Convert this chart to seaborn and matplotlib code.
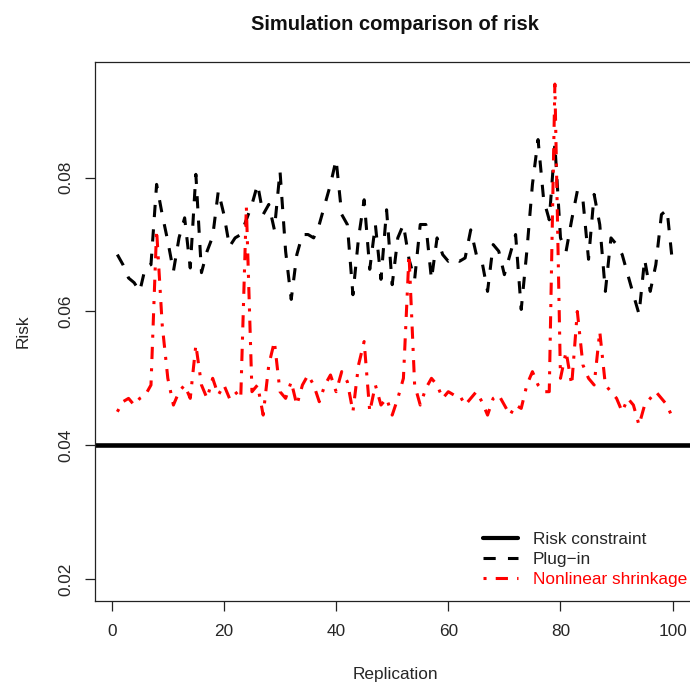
import numpy as np
import pandas as pd
import matplotlib
matplotlib.use("Agg")
import matplotlib.pyplot as plt
import seaborn as sns
from matplotlib.lines import Line2D

replication = list(range(1, 101))
plug_in = [0.0685, 0.067, 0.065, 0.0643, 0.063, 0.0666, 0.067, 0.079, 0.0745, 0.0705,
           0.066, 0.071, 0.074, 0.0665, 0.0805, 0.0658, 0.069, 0.0712, 0.078, 0.0745,
           0.0697, 0.071, 0.0715, 0.0737, 0.076, 0.079, 0.0745, 0.076, 0.0722, 0.081,
           0.069, 0.0618, 0.0685, 0.0715, 0.0715, 0.071, 0.073, 0.076, 0.079, 0.0827,
           0.0745, 0.073, 0.0625, 0.071, 0.0767, 0.0663, 0.073, 0.0648, 0.0752, 0.064,
           0.071, 0.073, 0.0678, 0.0648, 0.073, 0.073, 0.0648, 0.071, 0.0685, 0.0675,
           0.068, 0.0675, 0.068, 0.0722, 0.0685, 0.0675, 0.063, 0.070, 0.069, 0.0655,
           0.0685, 0.0715, 0.0603, 0.069, 0.079, 0.0857, 0.0767, 0.0737, 0.085, 0.071,
           0.069, 0.0737, 0.078, 0.0767, 0.0678, 0.0775, 0.073, 0.063, 0.071, 0.070,
           0.0685, 0.0655, 0.0625, 0.0596, 0.0678, 0.063, 0.067, 0.0745, 0.0752, 0.067]
nonlinear = [0.045, 0.0465, 0.047, 0.046, 0.047, 0.0475, 0.049, 0.0722, 0.058, 0.050,
             0.046, 0.048, 0.049, 0.047, 0.055, 0.049, 0.047, 0.050, 0.0475, 0.049,
             0.047, 0.048, 0.047, 0.0757, 0.048, 0.049, 0.0445, 0.052, 0.0555, 0.048,
             0.047, 0.0495, 0.046, 0.049, 0.0505, 0.049, 0.0465, 0.049, 0.0505, 0.048,
             0.051, 0.0495, 0.045, 0.052, 0.0555, 0.045, 0.049, 0.046, 0.047, 0.0445,
             0.047, 0.050, 0.0685, 0.049, 0.046, 0.0485, 0.050, 0.049, 0.047, 0.048,
             0.0475, 0.0475, 0.046, 0.047, 0.048, 0.0465, 0.0445, 0.047, 0.0475, 0.046,
             0.0445, 0.046, 0.0455, 0.049, 0.051, 0.049, 0.048, 0.048, 0.094, 0.050,
             0.054, 0.049, 0.060, 0.052, 0.050, 0.049, 0.057, 0.049, 0.048, 0.047,
             0.045, 0.047, 0.046, 0.043, 0.046, 0.047, 0.048, 0.047, 0.046, 0.044]
risk_constraint = 0.04
x_ticks = [0, 20, 40, 60, 80, 100]
y_ticks = [0.02, 0.04, 0.06, 0.08]
y_tick_labels = ["0.02", "0.04", "0.06", "0.08"]
legend_labels = ["Risk constraint", "Plug\u2212in", "Nonlinear shrinkage"]

df = pd.DataFrame({"Replication": replication, "plug": plug_in, "nonlin": nonlinear})

sns.set_style("ticks")
plt.rcParams['font.family'] = ['Liberation Sans', 'DejaVu Sans']

FS = 12.4
LW = 2.2
DASH = (4, 4)
DOTDASH = (1, 3, 4, 3)
fig = plt.figure(figsize=(6.9, 6.85), dpi=100)
W, H = 690, 685
ax = fig.add_axes([95 / W, 1 - 601 / H, (695 - 95) / W, (601 - 62) / H])

ax.axhline(risk_constraint, color="black", lw=3.3, solid_capstyle="butt")
sns.lineplot(data=df, x="Replication", y="plug", ax=ax, color="black", lw=LW)
ax.lines[-1].set_dashes(DASH)
sns.lineplot(data=df, x="Replication", y="nonlin", ax=ax, color="red", lw=LW)
ax.lines[-1].set_dashes(DOTDASH)

ax.set_xlim(-2.98, 103.98)
ax.set_ylim(0.0167, 0.0973)
ax.set_xticks(x_ticks)
ax.set_xticklabels([str(v) for v in x_ticks], fontsize=FS)
ax.set_yticks(y_ticks)
ax.set_yticklabels(y_tick_labels, fontsize=FS, rotation=90, va="center")
ax.tick_params(axis="x", direction="out", length=7.5, width=0.9, color="#222222", pad=9)
ax.tick_params(axis="y", direction="out", length=7.5, width=0.9, color="#222222", pad=8)
for s in ax.spines.values():
    s.set_visible(True)
    s.set_linewidth(0.9)
    s.set_color("#222222")
ax.set_xlabel("Replication", fontsize=FS, labelpad=20.5)
ax.set_ylabel("Risk", fontsize=FS, labelpad=20)
fig.text(395 / W, 1 - 30 / H, "Simulation comparison of risk", ha="center",
         va="baseline", fontsize=14.5, fontweight="bold", color="#111111")

handles = [
    Line2D([], [], color="black", lw=3.0),
    Line2D([], [], color="black", lw=LW, dashes=DASH),
    Line2D([], [], color="red", lw=LW, dashes=DOTDASH),
]
leg = ax.legend(handles, legend_labels, loc="lower left",
                bbox_to_anchor=((483 - 95) / 600, (601 - 587) / 539),
                frameon=False, fontsize=FS, handlelength=2.03, handletextpad=0.87,
                labelspacing=0.29, borderaxespad=0, borderpad=0)
leg.get_texts()[2].set_color("red")

fig.savefig("out.png", dpi=100)
